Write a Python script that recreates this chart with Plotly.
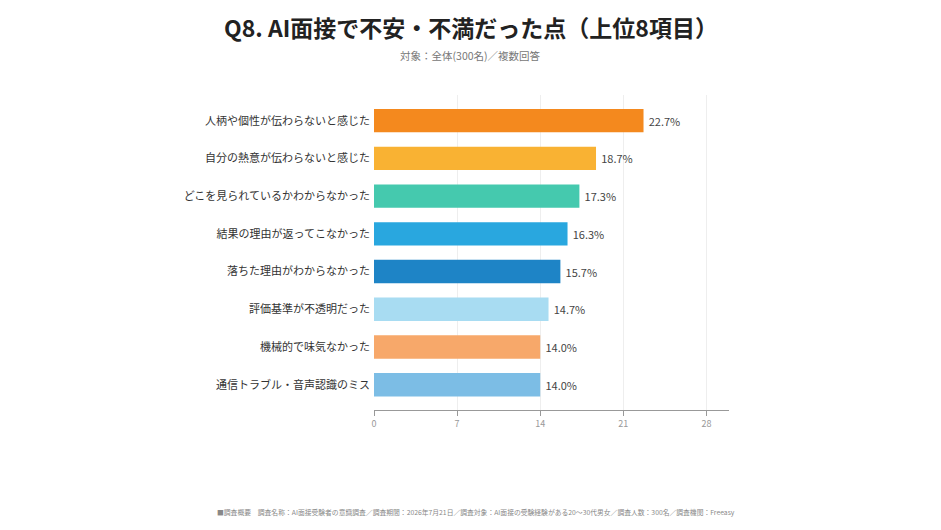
import plotly.graph_objects as go

categories = [
    "人柄や個性が伝わらないと感じた",
    "自分の熱意が伝わらないと感じた",
    "どこを見られているかわからなかった",
    "結果の理由が返ってこなかった",
    "落ちた理由がわからなかった",
    "評価基準が不透明だった",
    "機械的で味気なかった",
    "通信トラブル・音声認識のミス",
]
values = [22.7, 18.7, 17.3, 16.3, 15.7, 14.7, 14.0, 14.0]
colors = ["#F4891E", "#F9B233", "#45C9AE", "#29A7DF", "#1E84C6", "#A8DCF2", "#F7A86A", "#7CBDE5"]
tick_vals = [0, 7, 14, 21, 28]

FONT = "Noto Sans CJK JP"
OFF = 8  # page body offset

W, H = 941, 530
L, T = 374 - OFF, 95 - OFF
R = W - (729 - OFF)
B = H - (410 - OFF)

fig = go.Figure(go.Bar(
    x=values,
    y=categories,
    orientation="h",
    marker=dict(color=colors, line=dict(width=0)),
    text=[f"{v:.1f}%" for v in values],
    textposition="outside",
    textfont=dict(size=11, color="#444444", family=FONT),
    texttemplate="\u2009%{text}",
    cliponaxis=False,
    width=0.62,
))

plot_h = H - T - B
plot_w = W - L - R

def px_x(x):
    return (x - OFF - L) / plot_w

def px_y(y):
    return (H - B - (y - OFF)) / plot_h

fig.update_layout(
    width=W, height=H,
    margin=dict(l=L, r=R, t=T, b=B),
    paper_bgcolor="white", plot_bgcolor="white",
    font=dict(family=FONT),
    showlegend=False,
    annotations=[
        dict(text="<b>Q8. AI面接で不安・不満だった点（上位8項目）</b>", xref="paper", yref="paper",
             x=px_x(471), xanchor="center", y=px_y(27), yanchor="middle",
             showarrow=False, font=dict(size=23, color="#222222", family=FONT)),
        dict(text="対象：全体(300名)／複数回答", xref="paper", yref="paper",
             x=px_x(470), xanchor="center", y=px_y(55), yanchor="middle",
             showarrow=False, font=dict(size=10.5, color="#777777", family=FONT)),
        dict(text="■調査概要　調査名称：AI面接受験者の意識調査／調査期間：2026年7月21日／調査対象：AI面接の受験経験がある20～30代男女／調査人数：300名／調査機関：Freeasy",
             xref="paper", yref="paper", x=px_x(215), xanchor="left", y=px_y(512), yanchor="middle",
             showarrow=False, font=dict(size=6.8, color="#888888", family=FONT)),
    ],
)

fig.update_xaxes(
    range=[0, 29.9],
    tickvals=tick_vals,
    showgrid=True, gridcolor="#EEEEEE", gridwidth=1,
    zeroline=False,
    showline=True, linecolor="#999999", linewidth=1,
    ticks="outside", ticklen=5, tickcolor="#999999",
    tickfont=dict(size=9, color="#999999", family=FONT),
)
fig.update_yaxes(
    range=[7.67, -0.68],
    showgrid=False, zeroline=False, showline=False,
    ticks="", ticklabelstandoff=3,
    tickfont=dict(size=11, color="#333333", family=FONT),
)

fig.write_html("out.html")
